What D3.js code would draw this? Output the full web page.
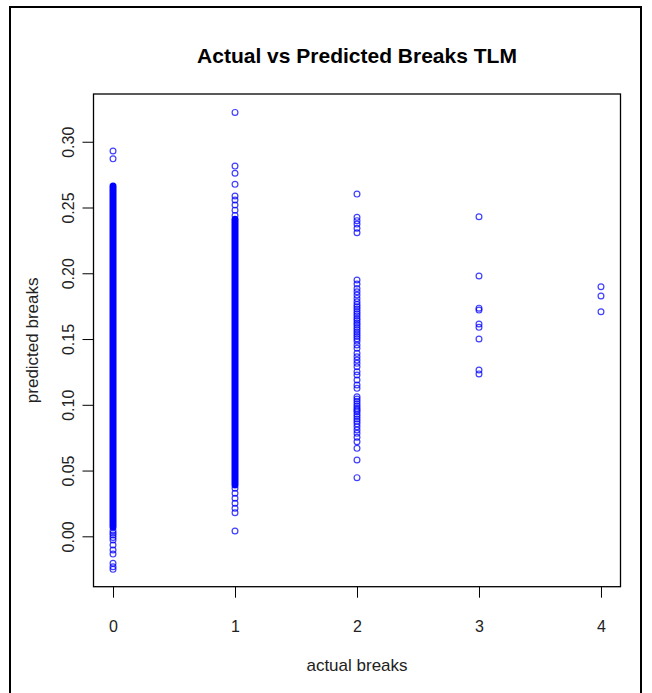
<!DOCTYPE html>
<html>
<head>
<meta charset="utf-8">
<script src="https://cdn.jsdelivr.net/npm/d3@7"></script>
<style>
  html, body { margin: 0; padding: 0; background: #fff; }
  svg { display: block; font-family: "Liberation Sans", Arial, sans-serif; }
</style>
</head>
<body>
<svg id="chart" width="652" height="693"></svg>
<script>
// Actual number of breaks (x categories) and tick labels
const actualCats = [0, 1, 2, 3, 4];
const yTickValues = [0.00, 0.05, 0.10, 0.15, 0.20, 0.25, 0.30];

// Solid runs where thousands of overlapping points merge into one band
const runActual = [0, 1];
const runLow = [0.0070, 0.0390];
const runHigh = [0.2663, 0.2410];

// Individually visible predicted values, one list per actual-break count
const pred0 = [0.2930, 0.2870, 0.0043, 0.0025, 0.0010, -0.0008, -0.0028, -0.0066,
  -0.0104, -0.0135, -0.0205, -0.0231, -0.0251];
const pred1 = [0.3223, 0.2815, 0.2760, 0.2676, 0.2587, 0.2557, 0.2519, 0.2480, 0.2440,
  0.0365, 0.0327, 0.0289, 0.0251, 0.0213, 0.0180, 0.0040];
const pred2 = [0.2602, 0.2425, 0.2400, 0.2374, 0.2342, 0.2308, 0.1949, 0.1918, 0.1885,
  0.1860, 0.1835, 0.1809, 0.1784, 0.1762, 0.1745, 0.1728, 0.1710, 0.1692, 0.1676,
  0.1657, 0.1641, 0.1622, 0.1606, 0.1588, 0.1571, 0.1553, 0.1537, 0.1519, 0.1502,
  0.1484, 0.1455, 0.1429, 0.1391, 0.1365, 0.1340, 0.1315, 0.1289, 0.1251, 0.1226,
  0.1188, 0.1150, 0.1125, 0.1061, 0.1044, 0.1027, 0.1008, 0.0990, 0.0973, 0.0961,
  0.0947, 0.0929, 0.0911, 0.0892, 0.0874, 0.0855, 0.0833, 0.0808, 0.0783, 0.0753,
  0.0719, 0.0669, 0.0580, 0.0446];
const pred3 = [0.2430, 0.1979, 0.1735, 0.1720, 0.1614, 0.1589, 0.1500, 0.1265, 0.1235];
const pred4 = [0.1898, 0.1827, 0.1708];
const predByActual = [pred0, pred1, pred2, pred3, pred4];

const svg = d3.select("#chart");
const plot = { left: 93.5, right: 620.5, top: 94, bottom: 586.7 };
const blue = "#0000ff";

const x = d3.scaleLinear().domain([-0.16, 4.16]).range([plot.left, plot.right]);
const y = d3.scaleLinear().domain([-0.0383, 0.3363]).range([plot.bottom, plot.top]);

// outer frame
svg.append("path")
  .attr("d", "M10,693 L10,7 L641,7 L641,693")
  .attr("fill", "none").attr("stroke", "#000").attr("stroke-width", 2);

// title
svg.append("text")
  .attr("x", (plot.left + plot.right) / 2).attr("y", 63)
  .attr("text-anchor", "middle")
  .attr("font-weight", "bold").attr("font-size", 21)
  .text("Actual vs Predicted Breaks TLM");

// dense bands
svg.append("g").selectAll("line")
  .data(runActual.map((a, i) => ({ a, lo: runLow[i], hi: runHigh[i] })))
  .join("line")
  .attr("x1", d => x(d.a)).attr("x2", d => x(d.a))
  .attr("y1", d => y(d.lo)).attr("y2", d => y(d.hi))
  .attr("stroke", blue).attr("stroke-width", 7).attr("stroke-linecap", "round");

// individual points (open circles)
const pts = predByActual.flatMap((vals, i) => vals.map(v => ({ a: actualCats[i], v })));
svg.append("g").selectAll("circle")
  .data(pts)
  .join("circle")
  .attr("cx", d => x(d.a)).attr("cy", d => y(d.v))
  .attr("r", 2.9)
  .attr("fill", "none").attr("stroke", blue).attr("stroke-width", 1.2)
  .attr("stroke-opacity", 0.75);

// plot box
svg.append("rect")
  .attr("x", plot.left).attr("y", plot.top)
  .attr("width", plot.right - plot.left).attr("height", plot.bottom - plot.top)
  .attr("fill", "none").attr("stroke", "#000").attr("stroke-width", 1.3);

// x axis
const gx = svg.append("g")
  .attr("transform", `translate(0,${plot.bottom})`)
  .call(d3.axisBottom(x).tickValues(actualCats).tickFormat(d3.format("d")).tickSize(11));
gx.select(".domain").remove();
gx.selectAll(".tick line").attr("stroke", "#000");
gx.selectAll(".tick text")
  .attr("y", 45).attr("dy", 0)
  .attr("font-size", 16).attr("fill", "#222")
  .attr("font-family", "Liberation Sans, Arial, sans-serif");

// y axis
const gy = svg.append("g")
  .attr("transform", `translate(${plot.left},0)`)
  .call(d3.axisLeft(y).tickValues(yTickValues).tickFormat(d3.format(".2f")).tickSize(11));
gy.select(".domain").remove();
gy.selectAll(".tick line").attr("stroke", "#000");
gy.selectAll(".tick text")
  .attr("x", 0).attr("dy", 0)
  .attr("transform", "translate(-20,0) rotate(-90)")
  .attr("text-anchor", "middle")
  .attr("font-size", 16).attr("fill", "#222")
  .attr("font-family", "Liberation Sans, Arial, sans-serif");

// axis titles
svg.append("text")
  .attr("x", (plot.left + plot.right) / 2).attr("y", 671)
  .attr("text-anchor", "middle").attr("font-size", 17).attr("fill", "#222")
  .text("actual breaks");

svg.append("text")
  .attr("transform", `translate(38,${(plot.top + plot.bottom) / 2}) rotate(-90)`)
  .attr("text-anchor", "middle").attr("font-size", 17).attr("fill", "#222")
  .text("predicted breaks");
</script>
</body>
</html>
